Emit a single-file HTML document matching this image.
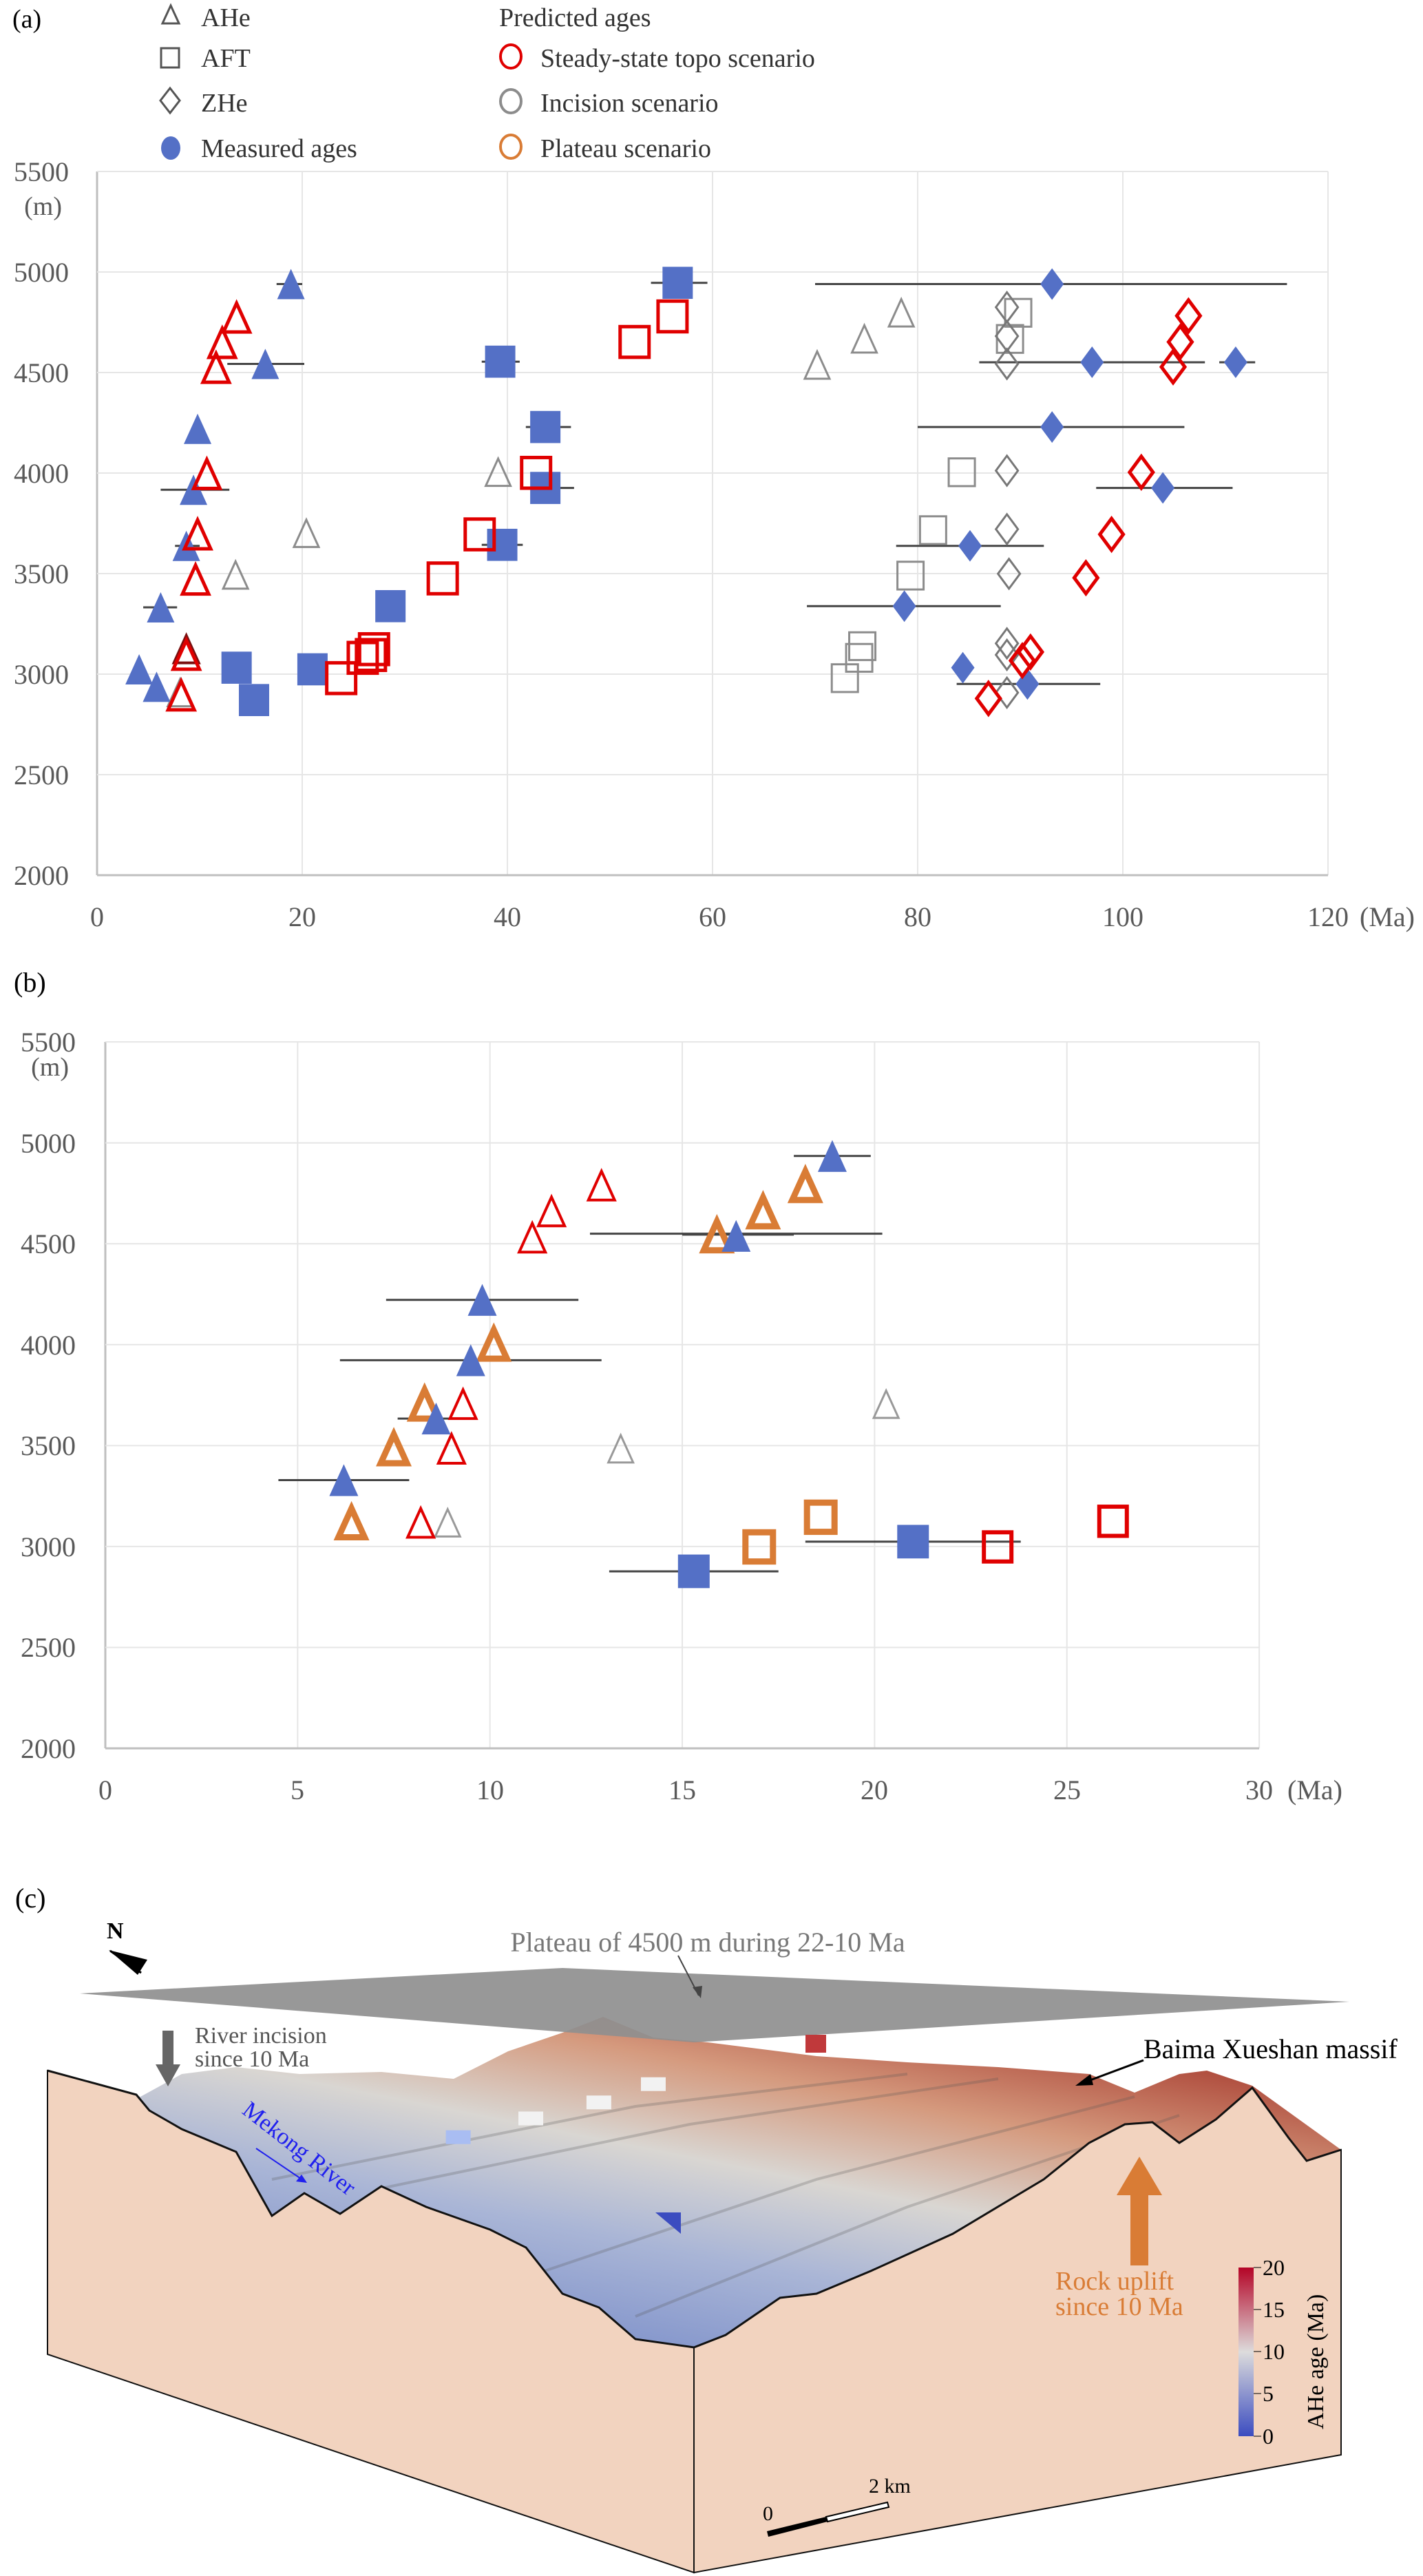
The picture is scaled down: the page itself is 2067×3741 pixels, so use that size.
<!DOCTYPE html>
<html><head><meta charset="utf-8"><style>
html,body{margin:0;padding:0;background:#fff}
svg{display:block}
svg text{font-family:"Liberation Serif","Times New Roman",serif}
</style></head><body>
<svg id="s" width="2067" height="3741" viewBox="0 0 2067 3741" xmlns="http://www.w3.org/2000/svg" font-family="'Liberation Serif', serif">
<defs>
<linearGradient id="tg" x1="0.15" y1="0.95" x2="0.85" y2="0.05">
<stop offset="0" stop-color="#6f84c6"/>
<stop offset="0.35" stop-color="#a9b5d6"/>
<stop offset="0.55" stop-color="#d9d6d2"/>
<stop offset="0.75" stop-color="#d59a7e"/>
<stop offset="1" stop-color="#a63a2e"/>
</linearGradient>
<linearGradient id="cb" x1="0" y1="1" x2="0" y2="0">
<stop offset="0" stop-color="#3b4cc0"/><stop offset="0.5" stop-color="#dddcdc"/><stop offset="1" stop-color="#b40426"/>
</linearGradient>
</defs>
<g id="grid"></g>
<g id="marks"></g>
<g font-size="38" fill="#333">
<text x="18" y="40" fill="#000">(a)</text>
<text x="292" y="38">AHe</text>
<text x="292" y="97">AFT</text>
<text x="292" y="162">ZHe</text>
<text x="292" y="228">Measured ages</text>
<text x="725" y="38">Predicted ages</text>
<text x="785" y="97">Steady-state topo scenario</text>
<text x="785" y="162">Incision scenario</text>
<text x="785" y="228">Plateau scenario</text>
</g>
<g fill="none" stroke-width="4">
<polygon points="248,8 236,34 260,34" stroke="#555" stroke-width="3"/>
<rect x="234" y="70" width="26" height="28" stroke="#555" stroke-width="3"/>
<polygon points="247,128 261,146 247,164 233,146" stroke="#555" stroke-width="3"/>
<ellipse cx="248" cy="215" rx="14" ry="17" fill="#5470c6" stroke="none"/>
<ellipse cx="742" cy="82" rx="15" ry="17" stroke="#e00000"/>
<ellipse cx="742" cy="147" rx="15" ry="17" stroke="#8c8c8c"/>
<ellipse cx="742" cy="213" rx="15" ry="17" stroke="#d97c35"/>
</g>
<g font-size="40" fill="#595959" text-anchor="end">
<text x="100" y="263">5500</text><text x="90" y="312" font-size="38">(m)</text>
<text x="100" y="409">5000</text><text x="100" y="555">4500</text><text x="100" y="701">4000</text>
<text x="100" y="847">3500</text><text x="100" y="993">3000</text><text x="100" y="1139">2500</text><text x="100" y="1285">2000</text>
</g>
<g font-size="40" fill="#595959" text-anchor="middle">
<text x="141" y="1345">0</text><text x="439" y="1345">20</text><text x="737" y="1345">40</text><text x="1035" y="1345">60</text>
<text x="1333" y="1345">80</text><text x="1631" y="1345">100</text><text x="1929" y="1345">120</text>
<text x="2015" y="1345">(Ma)</text>
</g>
<text x="20" y="1440" font-size="40" fill="#000">(b)</text>
<g font-size="40" fill="#595959" text-anchor="end">
<text x="110" y="1527">5500</text><text x="100" y="1562" font-size="38">(m)</text>
<text x="110" y="1674">5000</text><text x="110" y="1820">4500</text><text x="110" y="1967">4000</text>
<text x="110" y="2113">3500</text><text x="110" y="2260">3000</text><text x="110" y="2406">2500</text><text x="110" y="2553">2000</text>
</g>
<g font-size="40" fill="#595959" text-anchor="middle">
<text x="153" y="2613">0</text><text x="432" y="2613">5</text><text x="712" y="2613">10</text><text x="991" y="2613">15</text>
<text x="1270" y="2613">20</text><text x="1550" y="2613">25</text><text x="1829" y="2613">30</text>
<text x="1910" y="2613">(Ma)</text>
</g>
<text x="22" y="2770" font-size="40" fill="#000">(c)</text>
<text x="155" y="2815" font-size="34" font-weight="bold" fill="#000">N</text>
<polygon points="158,2832 214,2846 200,2868" fill="#000"/>
<line x1="160" y1="2833" x2="205" y2="2865" stroke="#000" stroke-width="3"/>
<g id="terrain"></g>
<text x="1028" y="2834" font-size="40" fill="#777" text-anchor="middle">Plateau of 4500 m during 22-10 Ma</text>
<line x1="985" y1="2840" x2="1015" y2="2898" stroke="#444" stroke-width="2"/>
<polygon points="1018,2902 1006,2886 1020,2884" fill="#444"/>
<text x="283" y="2967" font-size="34" fill="#555">River incision</text>
<text x="283" y="3001" font-size="34" fill="#555">since 10 Ma</text>
<rect x="236" y="2949" width="16" height="52" fill="#666"/>
<polygon points="226,2998 262,2998 244,3030" fill="#666"/>
<text x="1661" y="2989" font-size="40" fill="#000">Baima Xueshan massif</text>
<line x1="1661" y1="2992" x2="1570" y2="3026" stroke="#000" stroke-width="3"/>
<polygon points="1562,3029 1584,3012 1588,3028" fill="#000"/>
<text transform="translate(350,3068) rotate(38)" font-size="34" fill="#2020ee">Mekong River</text>
<line x1="372" y1="3120" x2="440" y2="3166" stroke="#2020ee" stroke-width="2"/>
<polygon points="446,3170 430,3168 438,3158" fill="#2020ee"/>
<rect x="1642" y="3186" width="26" height="104" fill="#d97c35"/>
<polygon points="1622,3188 1688,3188 1655,3132" fill="#d97c35"/>
<text x="1533" y="3325" font-size="38" fill="#d97c35">Rock uplift</text>
<text x="1533" y="3362" font-size="38" fill="#d97c35">since 10 Ma</text>
<rect x="1799" y="3293" width="22" height="245" fill="url(#cb)"/>
<g stroke="#000">
<line x1="1821" y1="3293" x2="1832" y2="3293"/><line x1="1821" y1="3354" x2="1832" y2="3354"/>
<line x1="1821" y1="3415" x2="1832" y2="3415"/><line x1="1821" y1="3476" x2="1832" y2="3476"/>
<line x1="1821" y1="3538" x2="1832" y2="3538"/>
</g>
<g font-size="32" fill="#000">
<text x="1834" y="3304">20</text><text x="1834" y="3365">15</text><text x="1834" y="3426">10</text>
<text x="1834" y="3487">5</text><text x="1834" y="3549">0</text>
</g>
<text transform="translate(1922,3528) rotate(-90)" font-size="34" fill="#000">AHe age (Ma)</text>
<polygon points="1114,3676 1200,3655 1202,3662 1116,3684" fill="#000"/>
<polygon points="1200,3655 1289,3634 1291,3641 1202,3662" fill="#fff" stroke="#000" stroke-width="2"/>
<text x="1108" y="3660" font-size="30" fill="#000">0</text>
<text x="1262" y="3620" font-size="30" fill="#000">2 km</text>
</svg>
<script>
var NS="http://www.w3.org/2000/svg";
function el(p,t,a){var e=document.createElementNS(NS,t);for(var k in a)e.setAttribute(k,a[k]);p.appendChild(e);return e;}
var G=document.getElementById('grid'),M=document.getElementById('marks'),T=document.getElementById('terrain');
var ax=function(a){return 141+a*14.9},ay=function(h){return 1271-(h-2000)*0.292};
var bx=function(a){return 153+a*55.87},by=function(h){return 2539-(h-2000)*0.2931};
for(var i=0;i<=6;i++){el(G,'line',{x1:ax(i*20),y1:249,x2:ax(i*20),y2:1271,stroke:i==0?'#bfbfbf':'#e6e6e6','stroke-width':i==0?3:2});}
for(var i=0;i<=7;i++){var h=2000+i*500;el(G,'line',{x1:141,y1:ay(h),x2:1929,y2:ay(h),stroke:i==0?'#bfbfbf':'#e6e6e6','stroke-width':i==0?3:2});}
for(var i=0;i<=6;i++){el(G,'line',{x1:bx(i*5),y1:1513,x2:bx(i*5),y2:2539,stroke:i==0?'#bfbfbf':'#e6e6e6','stroke-width':i==0?3:2});}
for(var i=0;i<=7;i++){var h=2000+i*500;el(G,'line',{x1:153,y1:by(h),x2:1829,y2:by(h),stroke:i==0?'#bfbfbf':'#e6e6e6','stroke-width':i==0?3:2});}
var B='#5470c6',R='#e00000',GR='#8c8c8c',O='#d97c35';
function tri(x,y,w,f,s,sw){var h=w*1.1;el(M,'polygon',{points:(x)+','+(y-h/2)+' '+(x-w/2)+','+(y+h/2)+' '+(x+w/2)+','+(y+h/2),fill:f||'none',stroke:s||'none','stroke-width':sw||0});}
function sq(x,y,w,f,s,sw){el(M,'rect',{x:x-w/2,y:y-w*0.53,width:w,height:w*1.06,fill:f||'none',stroke:s||'none','stroke-width':sw||0});}
function dia(x,y,w,f,s,sw){var h=w*1.35;el(M,'polygon',{points:x+','+(y-h/2)+' '+(x+w/2)+','+y+' '+x+','+(y+h/2)+' '+(x-w/2)+','+y,fill:f||'none',stroke:s||'none','stroke-width':sw||0});}
function eb(X,Y,a1,a2,h){el(M,'line',{x1:X(a1),y1:Y(h),x2:X(a2),y2:Y(h),stroke:'#444','stroke-width':3});}
eb(ax,ay,17.5,20,4940);eb(ax,ay,12.7,20.2,4543);eb(ax,ay,6.2,12.9,3917);eb(ax,ay,7.6,10,3638);eb(ax,ay,4.5,7.8,3332);
eb(ax,ay,54,59.5,4946);eb(ax,ay,37.5,41.2,4554);eb(ax,ay,41.8,46.2,4229);eb(ax,ay,42,46.5,3926);eb(ax,ay,37.5,41.5,3643);
eb(ax,ay,70,116,4940);eb(ax,ay,86,108,4551);eb(ax,ay,109.4,112.9,4551);eb(ax,ay,80,106,4229);eb(ax,ay,97.4,110.7,3926);
eb(ax,ay,77.9,92.3,3638);eb(ax,ay,69.2,88.1,3338);eb(ax,ay,83.8,97.8,2951);
[[70.2,4537],[74.8,4667],[78.4,4797],[39.1,4004],[20.4,3700],[13.5,3493],[8.7,3124],[8.1,2908]].forEach(function(p){tri(ax(p[0]),ay(p[1]),36,null,GR,3)});
tri(ax(8.7),ay(3124),36,null,'#7a1010',4);
[[89.8,4797],[89,4667],[84.3,4004],[81.5,3716],[79.3,3490],[74.6,3139],[74.3,3081],[72.9,2980]].forEach(function(p){sq(ax(p[0]),ay(p[1]),38,null,GR,3)});
[[88.7,4825],[88.7,4681],[88.7,4543],[88.7,4012],[88.7,3721],[88.9,3499],[88.7,3153],[88.7,3096],[88.7,2908]].forEach(function(p){dia(ax(p[0]),ay(p[1]),32,null,'#777',3)});
[[18.9,4940],[16.4,4543],[9.8,4220],[9.4,3917],[8.7,3638],[6.2,3332],[4.1,3024],[5.8,2937]].forEach(function(p){tri(ax(p[0]),ay(p[1]),40,B)});
[[56.6,4946],[39.3,4554],[43.7,4229],[43.7,3926],[39.5,3643],[28.6,3338],[13.6,3032],[15.3,2871],[21,3024]].forEach(function(p){sq(ax(p[0]),ay(p[1]),44,B)});
[[93.1,4940],[97,4551],[111,4551],[93.1,4229],[103.9,3926],[85.1,3638],[78.7,3338],[84.4,3032],[90.7,2951]].forEach(function(p){dia(ax(p[0]),ay(p[1]),34,B)});
[[13.6,4773],[12.2,4647],[11.6,4523],[10.7,3995],[9.8,3695],[9.6,3470],[8.7,3096],[8.2,2894]].forEach(function(p){tri(ax(p[0]),ay(p[1]),38,null,R,5)});
[[56.1,4779],[52.4,4652],[42.8,4001],[37.3,3695],[33.7,3476],[27,3124],[26.7,3095],[25.9,3081],[23.8,2980]].forEach(function(p){sq(ax(p[0]),ay(p[1]),42,null,R,5)});
[[106.4,4782],[105.6,4652],[104.9,4528],[101.8,4004],[98.9,3695],[96.4,3479],[91,3110],[90.2,3067],[86.9,2879]].forEach(function(p){dia(ax(p[0]),ay(p[1]),34,null,R,5)});
eb(bx,by,17.9,19.9,4935);eb(bx,by,12.6,20.2,4550);eb(bx,by,15,17.9,4545);eb(bx,by,7.3,12.3,4222);eb(bx,by,6.1,12.9,3923);
eb(bx,by,7.6,9.6,3634);eb(bx,by,4.5,7.9,3329);eb(bx,by,13.1,17.5,2877);eb(bx,by,18.2,23.8,3024);
[[20.3,3705],[13.4,3484],[8.9,3117]].forEach(function(p){tri(bx(p[0]),by(p[1]),36,null,'#999',3)});
[[18.2,4788],[17.1,4658],[15.9,4539],[10.1,4002],[8.3,3705],[7.5,3484],[6.4,3117]].forEach(function(p){tri(bx(p[0]),by(p[1]),38,null,O,9)});
[[12.9,4788],[11.6,4660],[11.1,4530],[9.3,3705],[9.0,3484],[8.2,3117]].forEach(function(p){tri(bx(p[0]),by(p[1]),38,null,R,4)});
[[18.9,4935],[16.4,4539],[9.8,4222],[9.5,3923],[8.6,3634],[6.2,3329]].forEach(function(p){tri(bx(p[0]),by(p[1]),42,B)});
[[15.3,2877],[21,3024]].forEach(function(p){sq(bx(p[0]),by(p[1]),46,B)});
[[17,2998],[18.6,3145]].forEach(function(p){sq(bx(p[0]),by(p[1]),40,null,O,9)});
[[23.2,2998],[26.2,3125]].forEach(function(p){sq(bx(p[0]),by(p[1]),40,null,R,6)});
function cv(arr){return arr.map(function(p){return (p[0]*1.318).toFixed(0)+','+(p[1]*0.664+2700).toFixed(0)}).join(' ');}
var leftTop=[[52,462],[150,515],[165,550],[200,590],[260,640],[300,780],[335,730],[375,775],[420,715],[470,760],[540,810],[580,850],[620,950],[660,980],[700,1050],[765,1068]];
var rightTop=[[765,1068],[800,1040],[860,960],[900,950],[960,900],[1050,820],[1150,700],[1200,620],[1240,580],[1270,575],[1300,620],[1340,570],[1380,500],[1420,610],[1440,660],[1478,636]];
var ridge=[[1380,495],[1330,462],[1300,470],[1250,510],[1200,470],[1100,455],[1000,445],[900,430],[780,400],[720,390],[665,345],[620,380],[560,420],[500,480],[420,465],[330,470],[260,455],[200,470],[155,520]];
el(T,'polygon',{points:cv(leftTop.concat(rightTop.slice(1)).concat(ridge)),fill:'url(#tg)'});
[[[300,700],[700,540],[1000,470]],[[420,720],[760,580],[1100,480]],[[600,900],[900,700],[1250,520]],[[700,1000],[1000,760],[1300,560]]].forEach(function(l){el(T,'polyline',{points:cv(l),fill:'none',stroke:'#555','stroke-opacity':0.25,'stroke-width':4});});
el(T,'polygon',{points:cv(leftTop.concat([[765,1560],[52,1083]])),fill:'#f2d3bf',stroke:'#111','stroke-width':2});
el(T,'polygon',{points:cv(rightTop.concat([[1478,1302],[765,1560]])),fill:'#f2d3bf',stroke:'#111','stroke-width':2});
el(T,'polyline',{points:cv(leftTop.concat(rightTop.slice(1))),fill:'none',stroke:'#111','stroke-width':3});
[[720,492],[660,532],[585,567],[505,608]].forEach(function(p,i){el(T,'rect',{x:p[0]*1.318-18,y:p[1]*0.664+2700-10,width:36,height:20,fill:i==3?'#a9bdf2':'#f2f2f2'});});
el(T,'polygon',{points:cv([[722,772],[750,772],[750,820]]),fill:'#3b4cc0'});
el(T,'polygon',{points:cv([[88,293],[620,238],[1487,312],[765,400]]),fill:'#8f8f8f','fill-opacity':0.92});
el(T,'rect',{x:1170,y:2955,width:30,height:26,fill:'#c0393b'});
</script>
</body></html>
